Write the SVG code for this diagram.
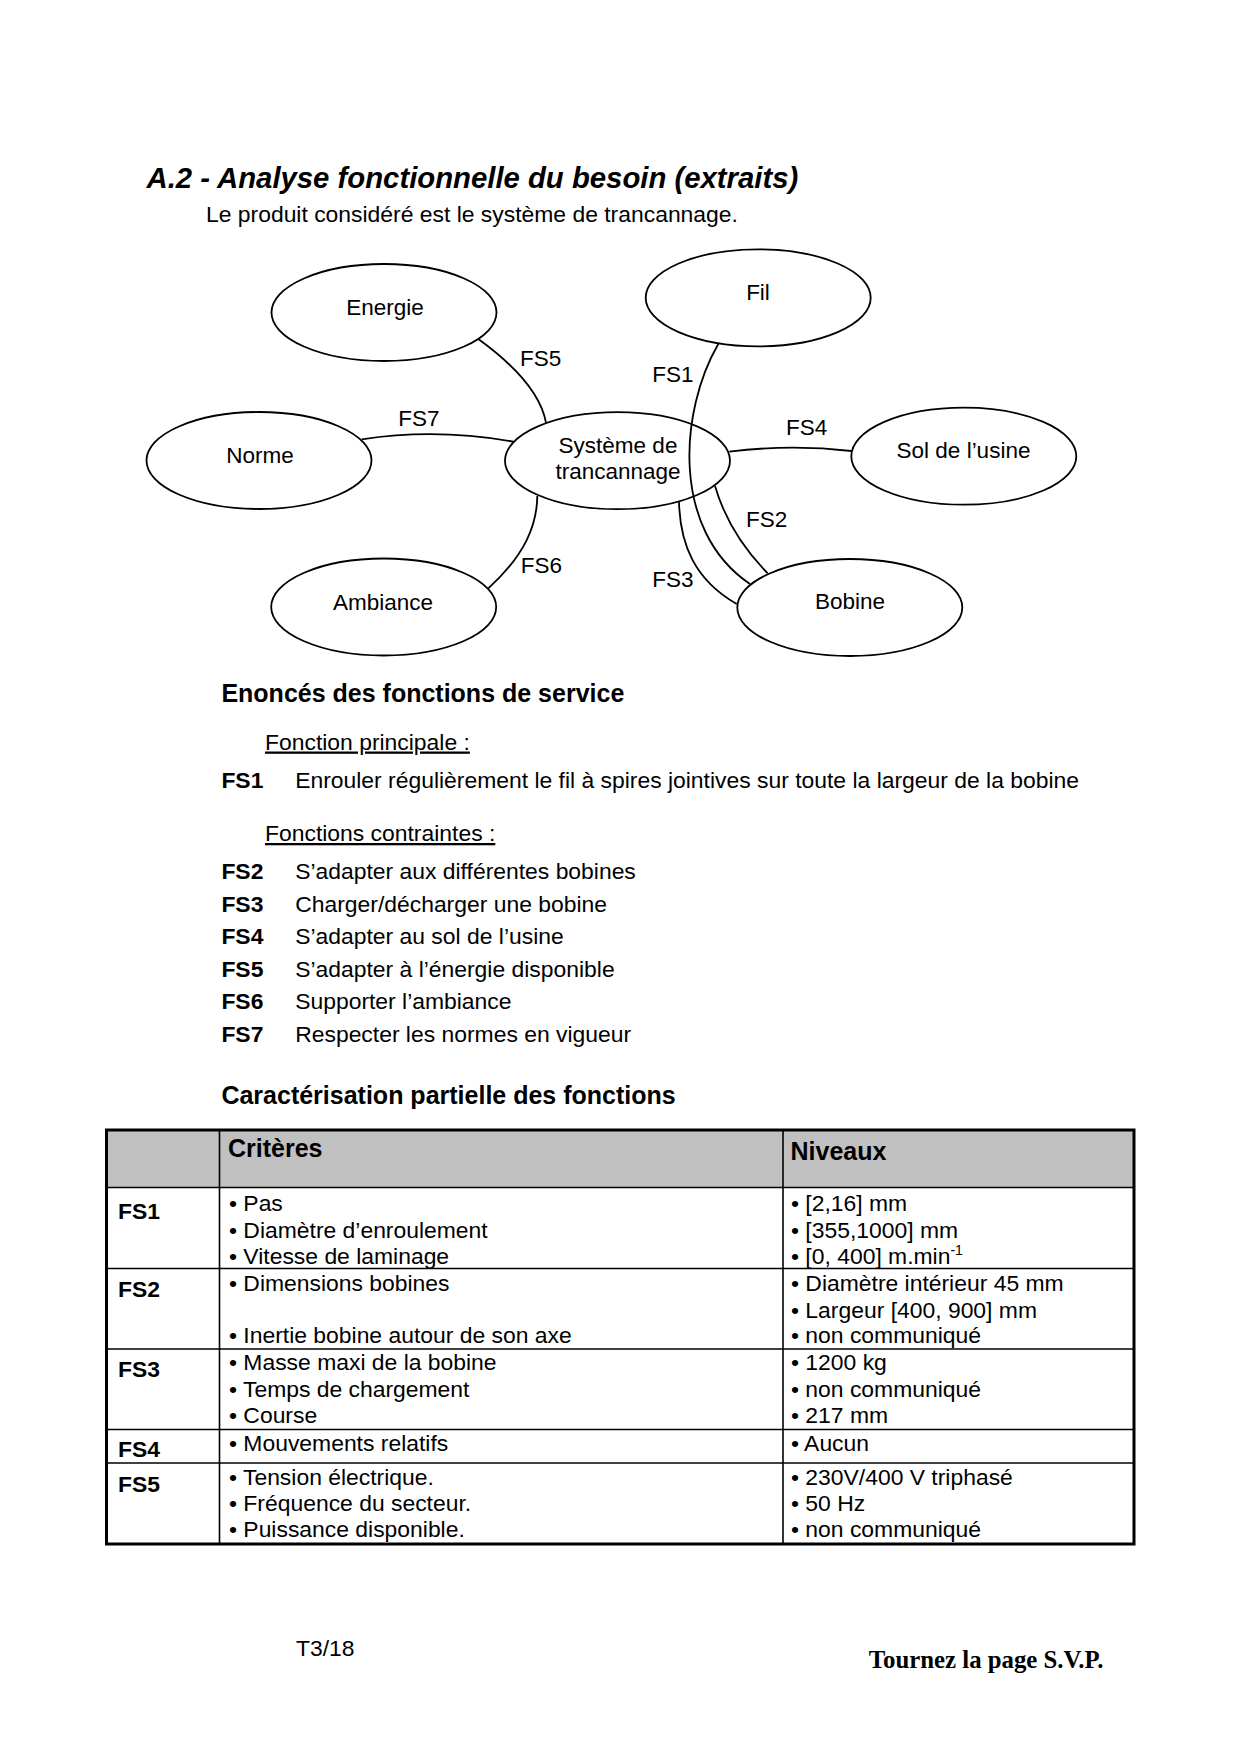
<svg xmlns="http://www.w3.org/2000/svg" width="1240" height="1754" viewBox="0 0 1240 1754">
<style>
text{font-family:"Liberation Sans",Arial,sans-serif;fill:#000}
.title{font-size:29.3px;font-weight:bold;font-style:italic}
.body{font-size:22.9px}
.bold{font-weight:bold}
.head{font-size:25px;font-weight:bold}
.lbl{font-size:22.5px}
.node ellipse{fill:#fff;stroke:#000;stroke-width:1.8}
.node text{font-size:22.5px;text-anchor:middle}
.conn path{fill:none;stroke:#000;stroke-width:1.8}
.u{text-decoration:underline}
.grid{stroke:#000;stroke-width:1.6}
.footer{font-family:"Liberation Serif","Times New Roman",serif;font-size:24.8px;font-weight:bold}
</style>
<rect width="1240" height="1754" fill="#fff"/>
<text class="title" x="146.5" y="188">A.2 - Analyse fonctionnelle du besoin (extraits)</text>
<text class="body" x="206" y="221.5">Le produit considéré est le système de trancannage.</text>

<g id="node-energie" class="node"><ellipse cx="384" cy="312.5" rx="112.5" ry="48.5"/><text x="385" y="315">Energie</text></g>
<g id="node-norme" class="node"><ellipse cx="259" cy="460.5" rx="112.5" ry="48.5"/><text x="260" y="463">Norme</text></g>
<g id="node-ambiance" class="node"><ellipse cx="383.7" cy="607" rx="112.5" ry="48.5"/><text x="383" y="610">Ambiance</text></g>
<g id="node-systeme" class="node"><ellipse cx="617.5" cy="460.7" rx="112.5" ry="48.5"/><text x="618" y="452.7">Système de</text><text x="618" y="479.3">trancannage</text></g>
<g id="node-fil" class="node"><ellipse cx="758.2" cy="297.8" rx="112.5" ry="48.5"/><text x="758" y="300">Fil</text></g>
<g id="node-sol" class="node"><ellipse cx="963.8" cy="456.2" rx="112.5" ry="48.5"/><text x="963.5" y="458.3">Sol de l’usine</text></g>
<g id="node-bobine" class="node"><ellipse cx="849.8" cy="607.5" rx="112.5" ry="48.5"/><text x="850" y="609.3">Bobine</text></g>

<g id="connectors" class="conn">
<path d="M718.3,344 C680,410 670,530 750,584"/>
<path d="M715,486 C722,510 735,540 767.7,573.3"/>
<path d="M679,501.7 C680,545 695,580 736.7,604"/>
<path d="M729.3,451.7 Q790,444 851.5,451"/>
<path d="M478.3,339 C510,362 540,390 546,422.7"/>
<path d="M537.3,496 C537,525 525,555 488.3,588.3"/>
<path d="M361.7,439.3 Q437,428 513.3,441.7"/>
<text class="lbl" x="652.3" y="381.7">FS1</text>
<text class="lbl" x="746" y="526.7">FS2</text>
<text class="lbl" x="652.3" y="586.7">FS3</text>
<text class="lbl" x="786" y="435">FS4</text>
<text class="lbl" x="520" y="366">FS5</text>
<text class="lbl" x="520.7" y="572.7">FS6</text>
<text class="lbl" x="398.3" y="426">FS7</text>
</g>

<text class="head" x="221.4" y="702">Enoncés des fonctions de service</text>
<text class="body u" x="265" y="749.5">Fonction principale :</text>
<text class="body bold" x="221.4" y="787.5">FS1</text>
<text class="body" x="295.2" y="787.5">Enrouler régulièrement le fil à spires jointives sur toute la largeur de la bobine</text>
<text class="body u" x="265" y="841">Fonctions contraintes :</text>
<g class="body">
<text class="body bold" x="221.4" y="879">FS2</text><text class="body" x="295.2" y="879">S’adapter aux différentes bobines</text>
<text class="body bold" x="221.4" y="911.5">FS3</text><text class="body" x="295.2" y="911.5">Charger/décharger une bobine</text>
<text class="body bold" x="221.4" y="944">FS4</text><text class="body" x="295.2" y="944">S’adapter au sol de l’usine</text>
<text class="body bold" x="221.4" y="976.5">FS5</text><text class="body" x="295.2" y="976.5">S’adapter à l’énergie disponible</text>
<text class="body bold" x="221.4" y="1009">FS6</text><text class="body" x="295.2" y="1009">Supporter l’ambiance</text>
<text class="body bold" x="221.4" y="1041.5">FS7</text><text class="body" x="295.2" y="1041.5">Respecter les normes en vigueur</text>
</g>
<text class="head" x="221.4" y="1103.5">Caractérisation partielle des fonctions</text>

<g id="table">
<rect x="106.5" y="1130" width="1027.5" height="57.5" fill="#c0c0c0"/>
<line class="grid" x1="106.5" y1="1187.5" x2="1134" y2="1187.5" stroke-width="2.4"/>
<line class="grid" x1="106.5" y1="1268.5" x2="1134" y2="1268.5"/>
<line class="grid" x1="106.5" y1="1349" x2="1134" y2="1349"/>
<line class="grid" x1="106.5" y1="1429.5" x2="1134" y2="1429.5"/>
<line class="grid" x1="106.5" y1="1463" x2="1134" y2="1463"/>
<line class="grid" x1="219.5" y1="1130" x2="219.5" y2="1544"/>
<line class="grid" x1="783" y1="1130" x2="783" y2="1544"/>
<rect x="106.5" y="1130" width="1027.5" height="414" fill="none" stroke="#000" stroke-width="3"/>
<text class="head" x="228" y="1156.5">Critères</text>
<text class="head" x="790.5" y="1160">Niveaux</text>
<g class="body">
<text class="body bold" x="118" y="1218.5">FS1</text>
<text class="body" x="229" y="1211.3">• Pas</text>
<text class="body" x="229" y="1238.1">• Diamètre d’enroulement</text>
<text class="body" x="229" y="1263.8">• Vitesse de laminage</text>
<text class="body" x="791" y="1211.3">• [2,16] mm</text>
<text class="body" x="791" y="1238.1">• [355,1000] mm</text>
<text class="body" x="791" y="1263.8">• [0, 400] m.min<tspan font-size="14" dy="-9">-1</tspan></text>
<text class="body bold" x="118" y="1297">FS2</text>
<text class="body" x="229" y="1290.7">• Dimensions bobines</text>
<text class="body" x="229" y="1343.2">• Inertie bobine autour de son axe</text>
<text class="body" x="791" y="1290.7">• Diamètre intérieur 45 mm</text>
<text class="body" x="791" y="1317.5">• Largeur [400, 900] mm</text>
<text class="body" x="791" y="1343.2">• non communiqué</text>
<text class="body bold" x="118" y="1376.7">FS3</text>
<text class="body" x="229" y="1370">• Masse maxi de la bobine</text>
<text class="body" x="229" y="1396.9">• Temps de chargement</text>
<text class="body" x="229" y="1422.6">• Course</text>
<text class="body" x="791" y="1370">• 1200 kg</text>
<text class="body" x="791" y="1396.9">• non communiqué</text>
<text class="body" x="791" y="1422.6">• 217 mm</text>
<text class="body bold" x="118" y="1457.2">FS4</text>
<text class="body" x="229" y="1450.6">• Mouvements relatifs</text>
<text class="body" x="791" y="1450.6">• Aucun</text>
<text class="body bold" x="118" y="1492">FS5</text>
<text class="body" x="229" y="1485.2">• Tension électrique.</text>
<text class="body" x="229" y="1510.9">• Fréquence du secteur.</text>
<text class="body" x="229" y="1536.6">• Puissance disponible.</text>
<text class="body" x="791" y="1485.2">• 230V/400 V triphasé</text>
<text class="body" x="791" y="1510.9">• 50 Hz</text>
<text class="body" x="791" y="1536.6">• non communiqué</text>
</g>
</g>

<text class="body" x="296" y="1656">T3/18</text>
<text class="footer" x="868.8" y="1668">Tournez la page S.V.P.</text>
</svg>
